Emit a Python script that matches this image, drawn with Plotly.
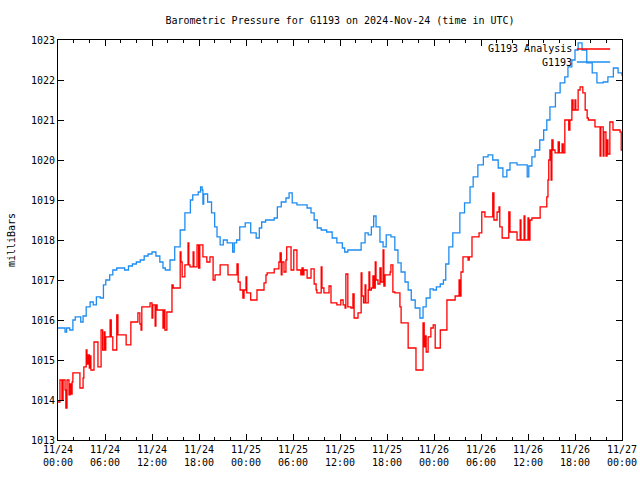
import pandas as pd
import plotly.graph_objects as go

base = pd.Timestamp("2024-11-24 00:00")

# G1193 (blue) : hours since 11/24 00:00 UTC, pressure in mb
g_hours = [0, 0.5, 0.9, 1.1, 1.5, 1.9, 2.2, 2.7, 2.9, 3.2, 3.6, 4.1, 4.5, 4.9, 5.4, 5.8, 6.1, 6.6, 7.0, 7.5,
           8.0, 8.5, 9.0, 9.5, 10.0, 10.5, 11.0, 11.5, 12.0, 12.5, 13.0, 13.4, 13.7, 14.3, 14.9, 15.6, 16.2,
           16.9, 17.2, 17.9, 18.2, 18.4, 18.5, 18.6, 19.1, 19.6, 20.0, 20.3, 20.7, 21.1, 21.6, 22.0, 22.3,
           22.5, 22.8, 23.2, 23.9, 24.4, 24.6, 25.3, 25.7, 26.0, 26.5, 27.6, 28.0, 28.5, 29.1, 29.5, 29.9,
           30.5, 31.4, 31.8, 32.3, 32.7, 33.1, 33.6, 34.3, 35.0, 35.6, 36.3, 36.6, 37.0, 38.3, 38.7, 39.2,
           39.6, 40.0, 40.3, 40.6, 41.1, 41.5, 41.9, 42.5, 43.0, 43.4, 43.8, 44.3, 44.7, 45.1, 45.6, 46.2,
           46.6, 47.0, 47.5, 47.9, 48.3, 48.8, 49.2, 49.5, 49.9, 50.4, 51.3, 51.9, 52.6, 53.0, 53.6, 54.3,
           54.9, 55.5, 56.2, 56.8, 57.3, 57.7, 58.6, 59.4, 59.9, 60.1, 60.5, 60.9, 61.5, 62.0, 62.4, 62.8,
           63.5, 64.1, 64.7, 65.1, 65.6, 66.0, 66.4, 66.9, 67.5, 68.2, 68.8, 69.6, 70.2, 70.9, 71.5, 72.0]
g_vals = [1015.8, 1015.8, 1015.7, 1015.8, 1015.75, 1016.0, 1016.08, 1016.08, 1015.95, 1016.1, 1016.33, 1016.45,
          1016.38, 1016.58, 1016.55, 1016.88, 1017.0, 1017.13, 1017.25, 1017.3, 1017.3, 1017.25, 1017.35,
          1017.4, 1017.45, 1017.5, 1017.6, 1017.65, 1017.7, 1017.6, 1017.45, 1017.3, 1017.25, 1017.5,
          1017.83, 1018.25, 1018.68, 1019.0, 1019.13, 1019.2, 1019.33, 1019.25, 1018.9, 1019.15, 1018.95,
          1018.68, 1018.33, 1018.08, 1017.88, 1018.0, 1017.93, 1017.93, 1017.7, 1017.93, 1018.0, 1018.33,
          1018.43, 1018.43, 1018.18, 1018.05, 1018.3, 1018.45, 1018.5, 1018.55, 1018.83, 1018.95, 1019.05,
          1019.18, 1018.93, 1018.88, 1018.88, 1018.8, 1018.68, 1018.5, 1018.3, 1018.25, 1018.2, 1018.05,
          1017.93, 1017.8, 1017.7, 1017.75, 1017.75, 1017.93, 1018.18, 1018.13, 1018.33, 1018.6, 1018.33,
          1017.95, 1017.83, 1018.13, 1018.08, 1017.75, 1017.43, 1017.2, 1016.95, 1016.75, 1016.5, 1016.3,
          1016.05, 1016.33, 1016.55, 1016.78, 1016.75, 1016.83, 1016.9, 1017.0, 1017.4, 1017.83, 1018.18,
          1018.68, 1018.93, 1019.33, 1019.58, 1019.88, 1020.08, 1020.13, 1020.0, 1019.8, 1019.58, 1019.75,
          1019.93, 1019.88, 1019.88, 1019.58, 1019.85, 1020.08, 1020.25, 1020.5, 1020.75, 1021.0, 1021.33,
          1021.68, 1021.93, 1022.08, 1022.33, 1022.5, 1022.75, 1022.93, 1022.75, 1022.43, 1022.18, 1021.93,
          1021.95, 1022.08, 1022.3, 1022.18, 1022.1]

# G1193 Analysis (red)
a_hours = [0, 0.25, 0.5, 0.65, 0.9, 1.0, 1.15, 1.4, 1.55, 1.65, 1.8, 1.9, 2.8, 3.2, 3.3, 3.6, 3.7, 3.85, 4.0,
           4.1, 4.2, 4.6, 5.1, 5.5, 5.7, 5.9, 6.0, 6.1, 6.65, 6.8, 7.0, 7.5, 7.65, 8.7, 9.3, 10.2, 10.45,
           10.6, 10.7, 11.75, 12.0, 12.1, 12.4, 12.5, 12.65, 13.4, 13.5, 13.65, 13.9, 14.55, 14.7, 15.6,
           15.7, 15.85, 16.2, 16.6, 16.7, 16.85, 17.25, 17.35, 17.75, 17.95, 18.1, 18.5, 19.0, 19.4, 19.8,
           20.05, 20.7, 21.7, 22.85, 23.0, 23.25, 23.6, 23.75, 24.0, 24.1, 24.6, 25.4, 26.3, 26.55, 26.7,
           27.6, 28.2, 28.35, 28.5, 28.6, 28.85, 29.1, 29.2, 29.75, 30.1, 30.5, 31.0, 31.15, 31.3, 31.4,
           31.8, 32.3, 32.7, 32.95, 33.05, 33.6, 33.7, 33.95, 34.6, 34.85, 35.6, 36.1, 36.4, 36.65, 36.75,
           37.0, 37.4, 37.65, 37.8, 38.3, 38.7, 38.8, 39.0, 39.2, 39.3, 39.6, 39.7, 39.8, 40.0, 40.2, 40.35,
           40.5, 40.6, 40.85, 41.1, 41.25, 41.5, 41.6, 41.75, 42.4, 42.5, 42.75, 43.0, 43.65, 43.8, 44.7,
           45.7, 46.6, 46.75, 46.85, 47.0, 47.25, 47.6, 47.9, 48.15, 48.8, 49.65, 50.7, 51.2, 51.3, 51.45,
           51.7, 52.35, 52.5, 52.85, 53.75, 54.1, 54.5, 55.5, 55.65, 56.05, 56.3, 56.4, 56.7, 57.55, 57.7,
           58.6, 59.0, 59.1, 59.5, 59.6, 60.0, 60.1, 60.25, 60.5, 61.55, 62.4, 62.55, 62.65, 62.8, 62.95,
           63.05, 63.2, 63.45, 63.85, 64.0, 64.35, 64.5, 64.7, 65.2, 65.35, 65.6, 65.75, 66.0, 66.1, 66.4,
           66.65, 67.0, 67.3, 67.55, 67.7, 68.55, 69.2, 69.3, 69.6, 69.7, 69.95, 70.1, 70.2, 70.45, 70.85,
           71.75, 71.9, 72.0]
a_vals = [1013.95, 1014.5, 1014.0, 1014.5, 1014.25, 1013.8, 1014.5, 1014.13, 1014.4, 1014.15, 1014.45, 1014.68,
          1014.3, 1014.55, 1014.83, 1015.25, 1014.9, 1015.13, 1014.8, 1015.1, 1014.75, 1015.45, 1014.83,
          1015.75, 1015.25, 1015.7, 1015.25, 1015.58, 1016.0, 1015.58, 1015.25, 1016.13, 1015.63, 1015.38,
          1015.95, 1016.18, 1015.9, 1015.75, 1016.33, 1016.43, 1016.05, 1016.38, 1015.85, 1016.38, 1016.25,
          1015.8, 1016.25, 1015.75, 1016.2, 1016.88, 1016.8, 1017.7, 1017.45, 1017.08, 1017.38, 1017.93,
          1017.38, 1017.33, 1017.7, 1017.33, 1017.88, 1017.3, 1017.88, 1017.58, 1017.45, 1017.58, 1017.0,
          1017.13, 1017.38, 1017.13, 1017.4, 1016.95, 1016.75, 1016.55, 1016.75, 1017.08, 1016.68, 1016.5,
          1016.75, 1016.93, 1017.13, 1017.18, 1017.28, 1017.45, 1017.68, 1017.13, 1017.45, 1017.2, 1017.5,
          1017.83, 1017.25, 1017.75, 1017.25, 1017.13, 1017.3, 1017.13, 1017.25, 1017.05, 1017.28, 1016.9,
          1016.75, 1016.68, 1017.33, 1016.8, 1016.68, 1016.85, 1016.43, 1016.38, 1016.5, 1016.38, 1016.3,
          1017.15, 1016.33, 1016.3, 1016.65, 1016.05, 1016.18, 1017.18, 1016.6, 1016.43, 1016.88, 1016.43,
          1016.75, 1017.2, 1016.75, 1016.8, 1017.1, 1016.8, 1017.45, 1017.0, 1016.9, 1017.3, 1016.95,
          1017.75, 1016.85, 1017.13, 1017.2, 1017.38, 1016.7, 1016.68, 1016.33, 1015.93, 1015.3, 1014.75,
          1015.93, 1015.33, 1015.6, 1015.2, 1015.58, 1015.8, 1015.88, 1015.3, 1015.75, 1016.5, 1016.6,
          1017.0, 1016.6, 1017.2, 1017.58, 1017.5, 1017.58, 1018.08, 1018.18, 1018.7, 1018.58, 1019.18,
          1018.5, 1018.7, 1018.83, 1018.33, 1018.05, 1018.7, 1018.2, 1018.0, 1018.5, 1018.0, 1018.6, 1018.0,
          1018.55, 1018.0, 1018.5, 1018.55, 1018.83, 1019.08, 1019.5, 1020.0, 1020.25, 1019.5, 1020.5,
          1020.25, 1020.18, 1020.45, 1020.18, 1020.4, 1020.18, 1021.0, 1020.75, 1021.0, 1021.5, 1021.25,
          1021.5, 1021.25, 1021.75, 1021.83, 1021.68, 1021.25, 1021.05, 1021.0, 1020.83, 1020.1, 1020.83,
          1020.1, 1020.7, 1020.1, 1020.5, 1020.15, 1020.95, 1020.75, 1020.7, 1020.25, 1020.25]

tick_hours = [0, 6, 12, 18, 24, 30, 36, 42, 48, 54, 60, 66, 72]
tick_labels = ["11/24<br>00:00", "11/24<br>06:00", "11/24<br>12:00", "11/24<br>18:00",
               "11/25<br>00:00", "11/25<br>06:00", "11/25<br>12:00", "11/25<br>18:00",
               "11/26<br>00:00", "11/26<br>06:00", "11/26<br>12:00", "11/26<br>18:00",
               "11/27<br>00:00"]
y_ticks = list(range(1013, 1024))

BLUE = "#1E8CF0"
RED = "#FF0000"
FONT = "DejaVu Sans Mono"


def to_time(hours):
    return [base + pd.Timedelta(hours=h) for h in hours]


fig = go.Figure()
fig.add_trace(go.Scatter(x=to_time(a_hours), y=a_vals, mode="lines", line=dict(color=RED, width=1.3, shape="hv"),
                         name="G1193 Analysis", showlegend=False))
fig.add_trace(go.Scatter(x=to_time(g_hours), y=g_vals, mode="lines", line=dict(color=BLUE, width=1.3, shape="hv"),
                         name="G1193", showlegend=False))

W, H = 640, 480
fig.update_layout(
    width=W, height=H,
    margin=dict(l=58, r=18, t=40, b=40, autoexpand=False),
    paper_bgcolor="white", plot_bgcolor="white",
    font=dict(family=FONT, size=10, color="black"),
    title=dict(text="Barometric Pressure for G1193 on 2024-Nov-24 (time in UTC)", x=0.5, xanchor="center",
               y=1 - 20 / H, yanchor="middle", xref="paper", yref="container", automargin=False,
               font=dict(family=FONT, size=10, color="black")),
)
fig.update_xaxes(
    range=[base, base + pd.Timedelta(hours=72)],
    tickvals=to_time(tick_hours), ticktext=tick_labels,
    ticks="inside", ticklen=6, tickcolor="black", tickwidth=1,
    minor=dict(dtick=2 * 3600 * 1000, ticks="inside", ticklen=3, tickcolor="black", tickwidth=1),
    showline=True, linecolor="black", linewidth=1, mirror="ticks",
    showgrid=False, zeroline=False, automargin=False,
)
fig.update_yaxes(
    range=[1013, 1023], tickvals=y_ticks,
    ticks="inside", ticklen=6, tickcolor="black", tickwidth=1,
    showline=True, linecolor="black", linewidth=1, mirror="ticks",
    showgrid=False, zeroline=False, automargin=False,
    title=dict(text="milliBars", standoff=13, font=dict(family=FONT, size=10)),
)

# gnuplot-style key: text right-aligned, sample line to its right
legend_items = [("G1193 Analysis", RED), ("G1193", BLUE)]
for i, (label, col) in enumerate(legend_items):
    yy = 1 - (9 + 13 * i) / 400
    fig.add_annotation(text=label, xref="paper", yref="paper", x=0.915, y=yy, xanchor="right",
                       yanchor="middle", showarrow=False, font=dict(family=FONT, size=10, color="black"))
    fig.add_shape(type="line", xref="paper", yref="paper", x0=0.920, x1=0.979, y0=yy, y1=yy,
                  line=dict(color=col, width=1.3))

# remove the page's default body margin so the 640x480 figure fills the window exactly
fig.write_html("out.html", config={"displayModeBar": False},
               post_script="document.body.style.margin='0px';document.body.style.overflow='hidden';")
